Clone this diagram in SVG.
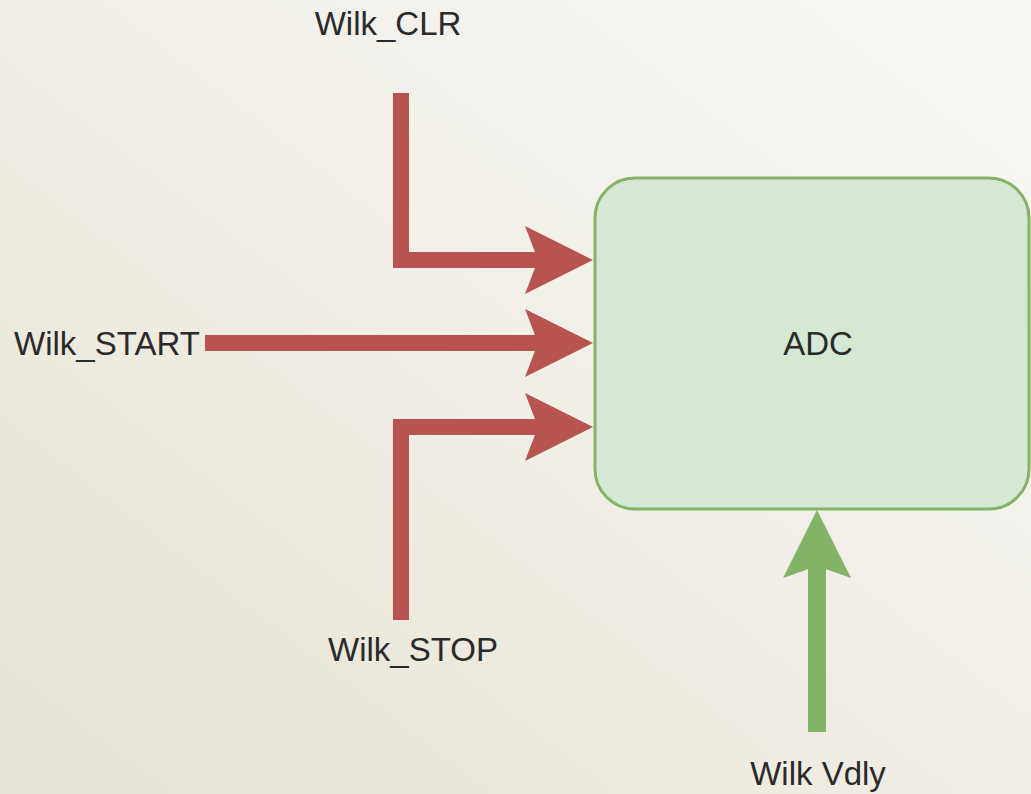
<svg xmlns="http://www.w3.org/2000/svg" width="1031" height="794" viewBox="0 0 1031 794">
  <style>
    .lbl { font-family: "Liberation Sans", Arial, sans-serif; font-size: 33px; fill: #2a2a2a; }
    .red { fill: none; stroke: #b85450; stroke-width: 16; stroke-linejoin: miter; stroke-linecap: butt; }
    .grn { fill: none; stroke: #82b366; stroke-width: 18; stroke-linecap: butt; }
  </style>
  <defs>
    <linearGradient id="bg" x1="0" y1="1" x2="1" y2="0">
      <stop offset="0" stop-color="#e6e2d1"/>
      <stop offset="0.55" stop-color="#f1efe8"/>
      <stop offset="1" stop-color="#f8f7f4"/>
    </linearGradient>
    <marker id="headRed" markerUnits="userSpaceOnUse" viewBox="0 0 68 68" markerWidth="68" markerHeight="68" refX="13" refY="34" orient="auto">
      <path d="M0,0 L68,34 L0,68 L13,34 Z" fill="#b85450"/>
    </marker>
    <marker id="headGrn" markerUnits="userSpaceOnUse" viewBox="0 0 68 68" markerWidth="68" markerHeight="68" refX="12" refY="34" orient="auto">
      <path d="M0,0 L68,34 L0,68 L12,34 Z" fill="#82b366"/>
    </marker>
  </defs>
  <rect x="0" y="0" width="1031" height="794" fill="url(#bg)"/>

  <g id="adc">
    <rect x="595" y="178" width="434" height="331" rx="40" ry="40" fill="#d5e8d4" stroke="#82b366" stroke-width="3"/>
    <text class="lbl" x="818" y="355" text-anchor="middle">ADC</text>
  </g>

  <g id="wilk_clr">
    <text class="lbl" x="388" y="35" text-anchor="middle">Wilk_CLR</text>
  </g>
  <g id="wilk_start">
    <text class="lbl" x="14" y="355">Wilk_START</text>
  </g>
  <g id="wilk_stop">
    <text class="lbl" x="413" y="661" text-anchor="middle">Wilk_STOP</text>
  </g>
  <g id="wilk_vdly">
    <text class="lbl" x="818" y="785" text-anchor="middle">Wilk Vdly</text>
  </g>

  <g id="connectors">
    <path class="red" d="M401,93 L401,260 L538,260" marker-end="url(#headRed)"/>
    <path class="red" d="M205,343 L538,343" marker-end="url(#headRed)"/>
    <path class="red" d="M401,620 L401,427 L538,427" marker-end="url(#headRed)"/>
    <path class="grn" d="M817,732 L817,566" marker-end="url(#headGrn)"/>
  </g>
</svg>
